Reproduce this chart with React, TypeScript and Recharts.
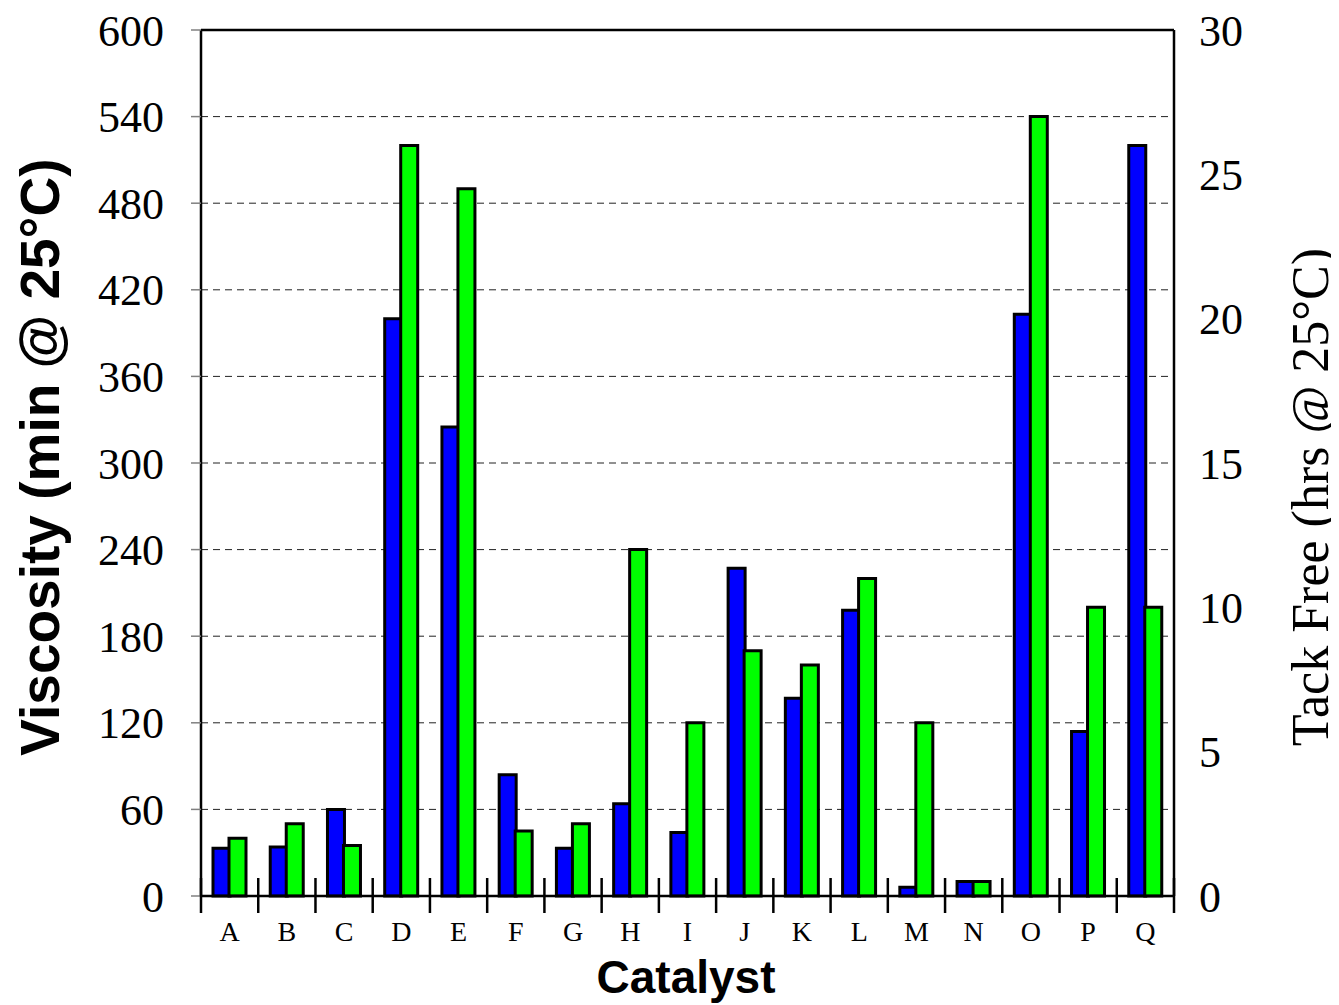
import React from 'react';
import { BarChart, Bar, XAxis, YAxis, CartesianGrid, ReferenceLine } from 'recharts';

// Catalysts along the x axis
const CATEGORIES = ['A', 'B', 'C', 'D', 'E', 'F', 'G', 'H', 'I', 'J', 'K', 'L', 'M', 'N', 'O', 'P', 'Q'];

// Viscosity, left axis (min @ 25°C)
const VISCOSITY = [33, 34, 60, 400, 325, 84, 33, 64, 44, 227, 137, 198, 6, 10, 403, 114, 520];

// Tack free time, right axis (hrs @ 25°C)
const TACK_FREE = [2, 2.5, 1.75, 26, 24.5, 2.25, 2.5, 12, 6, 8.5, 8, 11, 6, 0.5, 27, 10, 10];

const LEFT_TICKS = [0, 60, 120, 180, 240, 300, 360, 420, 480, 540, 600];
const RIGHT_TICKS = [0, 5, 10, 15, 20, 25, 30];

const data = CATEGORIES.map((name, i) => ({
	name,
	viscosity: VISCOSITY[i],
	tackFree: TACK_FREE[i],
}));

const W = 1331;
const H = 997;
const LEFT_W = 193;
const RIGHT_W = 165;
const X_H = 109;
const TOP = 22;
const PLOT_W = W - LEFT_W - RIGHT_W;

const SERIF = '"Liberation Serif", "Times New Roman", serif';
const SANS = '"Liberation Sans", Arial, sans-serif';

// category label plus tick marks on the band boundaries
const CategoryTick = (props: any) => {
	const { x, y, payload, index } = props;
	const half = payload && payload.offset ? payload.offset : PLOT_W / CATEGORIES.length / 2;
	const last = index === CATEGORIES.length - 1;
	return (
		<g>
			<line x1={x - half} x2={x - half} y1={y - 18} y2={y + 17} stroke="#000" strokeWidth={2.5} />
			{last && <line x1={x + half} x2={x + half} y1={y - 18} y2={y + 17} stroke="#000" strokeWidth={2.5} />}
			<text x={x} y={y + 45} textAnchor="middle" fontFamily={SERIF} fontSize={28} fill="#000">
				{payload.value}
			</text>
		</g>
	);
};

const leftTitle = () => (
	<text
		x={32}
		y={449}
		transform="rotate(-90, 32, 449)"
		textAnchor="middle"
		dominantBaseline="central"
		fontFamily={SANS}
		fontWeight="bold"
		fontSize={55}
		fill="#000"
	>
		Viscosity (min @ 25°C)
	</text>
);

const rightTitle = () => (
	<text
		x={1302}
		y={489}
		transform="rotate(-90, 1302, 489)"
		textAnchor="middle"
		dominantBaseline="central"
		fontFamily={SERIF}
		fontSize={52}
		fill="#000"
	>
		Tack Free (hrs @ 25°C)
	</text>
);

const bottomTitle = () => (
	<text x={678} y={985} textAnchor="middle" fontFamily={SANS} fontWeight="bold" fontSize={46} fill="#000">
		Catalyst
	</text>
);

export default function App() {
	return (
		<div style={{ width: W, height: H }}>
			<BarChart width={W} height={H} data={data} margin={{ top: TOP, right: 0, left: 0, bottom: 0 }} barGap={-1}>
				<CartesianGrid
					yAxisId="left"
					vertical={false}
					stroke="#222"
					strokeDasharray="7 5"
					strokeWidth={1}
				/>
				<XAxis
					dataKey="name"
					height={X_H}
					interval={0}
					tickSize={0}
					tickMargin={0}
					tickLine={false}
					axisLine={{ stroke: '#000', strokeWidth: 2.5 }}
					tick={<CategoryTick />}
					label={bottomTitle}
				/>
				<YAxis
					yAxisId="left"
					orientation="left"
					width={LEFT_W}
					domain={[0, 600]}
					ticks={LEFT_TICKS}
					interval={0}
					tickSize={10}
					tickMargin={27}
					tickLine={{ stroke: '#808080', strokeWidth: 1.5 }}
					axisLine={{ stroke: '#000', strokeWidth: 2.5 }}
					tick={{ fontFamily: SERIF, fontSize: 44, fill: '#000' }}
					label={leftTitle}
				/>
				<YAxis
					yAxisId="right"
					orientation="right"
					width={RIGHT_W}
					domain={[0, 30]}
					ticks={RIGHT_TICKS}
					interval={0}
					tickSize={0}
					tickMargin={25}
					tickLine={false}
					axisLine={{ stroke: '#000', strokeWidth: 2.5 }}
					tick={{ fontFamily: SERIF, fontSize: 44, fill: '#000' }}
					label={rightTitle}
				/>
				<ReferenceLine yAxisId="left" y={600} stroke="#000" strokeWidth={2.5} />
				<Bar
					yAxisId="left"
					dataKey="viscosity"
					fill="#0000FF"
					stroke="#000"
					strokeWidth={3}
					barSize={17}
					isAnimationActive={false}
				/>
				<Bar
					yAxisId="right"
					dataKey="tackFree"
					fill="#00FF00"
					stroke="#000"
					strokeWidth={3}
					barSize={17}
					isAnimationActive={false}
				/>
			</BarChart>
		</div>
	);
}
